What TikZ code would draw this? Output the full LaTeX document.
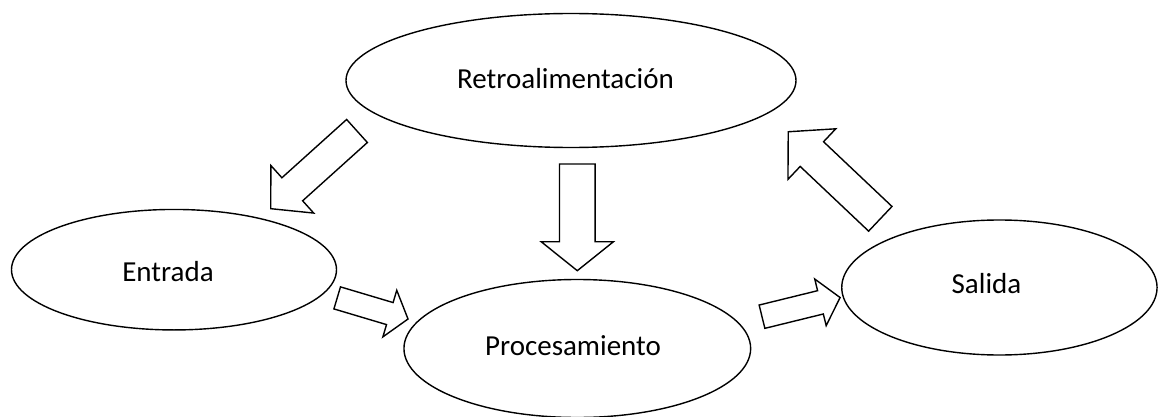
\documentclass[tikz,border=0pt]{standalone}
\usepackage{fontspec}
\setmainfont{Carlito}
\usetikzlibrary{shapes.geometric}
\tikzset{
  bubble/.style={draw, ellipse, line width=1.4pt, inner sep=0pt},
  lbl/.style={anchor=base, font=\fontsize{29}{34}\selectfont, inner sep=0pt},
  blockarrow/.style={draw, line width=1.4pt, line join=miter, fill=white},
}
% tail-x, tail-y, angle, length, shaft width, head width, head length
\newcommand{\blockarr}[7]{%
  \begin{scope}[shift={(#1,#2)}, rotate=#3]
    \draw[blockarrow] (0,-#5/2) -- (#4-#7,-#5/2) -- (#4-#7,-#6/2) -- (#4,0)
      -- (#4-#7,#6/2) -- (#4-#7,#5/2) -- (0,#5/2) -- cycle;
  \end{scope}}
\begin{document}
\begin{tikzpicture}[x=1pt,y=-1pt]
\useasboundingbox (0,0) rectangle (1159,417);
% ellipses
\node[bubble, minimum width=450pt, minimum height=134pt] (retro) at (571,80.5) {};
\node[bubble, minimum width=325pt, minimum height=120.5pt] (entrada) at (174,269.7) {};
\node[bubble, minimum width=346.7pt, minimum height=138pt] (proc) at (577.3,348.5) {};
\node[bubble, minimum width=315.3pt, minimum height=135pt] (salida) at (999.4,287.5) {};
% labels
\node[lbl] (retroT) at (565.5,88.3) {Retroalimentación};
\node[lbl] (entradaT) at (168,281.7) {Entrada};
\node[lbl] (procT) at (573,355) {Procesamiento};
\node[lbl] (salidaT) at (986.5,293.3) {Salida};
% block arrows
\blockarr{357}{131}{222}{116.1}{31}{64}{29}
\blockarr{577.3}{164}{270}{106.7}{35.7}{72.3}{29}
\blockarr{337.2}{297.9}{-16.6}{73.9}{23}{48.6}{19}
\blockarr{762}{316.7}{13.8}{80.4}{24}{48}{20.2}
\blockarr{880.3}{218.8}{136.6}{126.7}{34}{69.6}{32.5}
\end{tikzpicture}
\end{document}
